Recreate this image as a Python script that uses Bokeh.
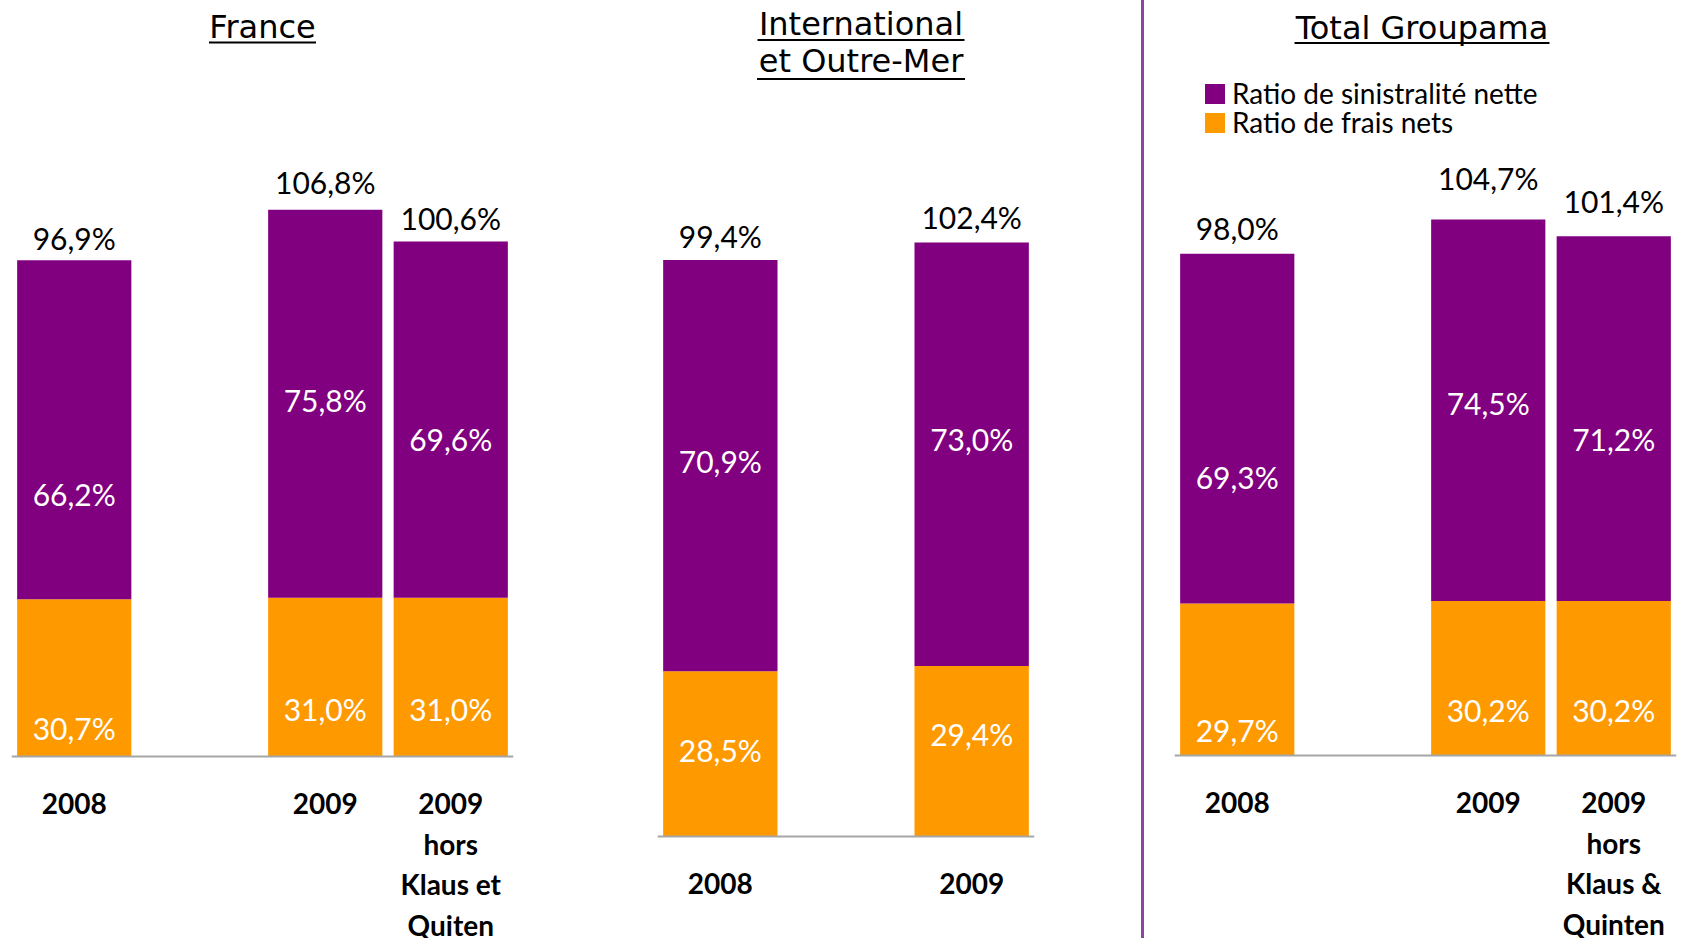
from bokeh.plotting import figure
from bokeh.models import FactorRange, Range1d, ColumnDataSource, Legend, LegendItem, Span, Div
from bokeh.layouts import row
from bokeh.embed import file_html
from bokeh.resources import INLINE
from bokeh.core.properties import value

# ---------------- data ----------------
france_labels = ["2008", "2009", "2009\nhors\nKlaus et\nQuiten"]
france_frais = [30.7, 31.0, 31.0]
france_sinistralite = [66.2, 75.8, 69.6]
france_ratio_combine = [96.9, 106.8, 100.6]

intl_labels = ["2008", "2009"]
intl_frais = [28.5, 29.4]
intl_sinistralite = [70.9, 73.0]
intl_ratio_combine = [99.4, 102.4]

total_labels = ["2008", "2009", "2009\nhors\nKlaus &\nQuinten"]
total_frais = [29.7, 30.2, 30.2]
total_sinistralite = [69.3, 74.5, 71.2]
total_ratio_combine = [98.0, 104.7, 101.4]

series_names = ["Ratio de sinistralité nette", "Ratio de frais nets"]

# ---------------- styles / layout ----------------
H = 938
PURPLE = "#800080"
ORANGE = "#FF9900"
AXIS_GRAY = "#A6A6A6"
DIVIDER = "#8B45A8"
LBL_FONT = value("Lato")
TITLE_FONT = value("DejaVu Sans")
UNIT = 125.6
BAR_W = 0.91
LBL_SIZE = 30
CAT_SIZE = 28
TITLE_SIZE = 32
BASELINE_FIX = 0.38      # em, empirical baseline correction of the svg text
LBL_BASELINE_FIX = 0.43


def fmt(v):
    return f"{v:.1f}".replace(".", ",") + "%"


def make_panel(title_lines, cats, frais, sin, comb, base, k, bl, br,
               title_dx, title_base, ul_y, ul_w, top_gap, sin_nudge, frais_nudge,
               legend_locs=None):
    groups = [c.split("\n")[0] for c in cats]
    factors = list(zip(groups, cats))
    n_units = len(cats) + (len(dict.fromkeys(groups)) - 1) * 1.0
    frame_w = int(round(n_units * UNIT))
    unit_px = frame_w / n_units
    p = figure(width=bl + frame_w + br, height=H,
               x_range=FactorRange(factors=factors, group_padding=1.0, range_padding=0),
               y_range=Range1d(-(H - base) / k, base / k),
               x_axis_location=None, y_axis_location=None,
               output_backend="svg", toolbar_location=None,
               min_border_left=bl, min_border_right=br,
               min_border_top=0, min_border_bottom=0)
    p.outline_line_color = None
    p.background_fill_color = "white"
    p.border_fill_color = "white"
    p.xgrid.grid_line_color = None
    p.ygrid.grid_line_color = None
    p.grid.visible = False

    fix = LBL_BASELINE_FIX * LBL_SIZE
    cap_half = 0.7165 * LBL_SIZE / 2
    mid_s = [(f + c) / 2 - nz / k for f, c, nz in zip(frais, comb, sin_nudge)]
    mid_f = [f / 2 - nz / k for f, nz in zip(frais, frais_nudge)]
    src = ColumnDataSource(dict(
        x=factors, frais=frais, comb=comb,
        sin_txt=[fmt(v) for v in sin], frais_txt=[fmt(v) for v in frais],
        comb_txt=[fmt(v) for v in comb],
        y_sin=[m + (fix - cap_half) / k for m in mid_s],
        y_fr=[m + (fix - cap_half) / k for m in mid_f],
        y_top=[c + (g + fix - cap_half) / k for c, g in zip(comb, top_gap)],
    ))
    r_or = p.vbar(x="x", bottom=0, top="frais", width=BAR_W, fill_color=ORANGE,
                  line_color=None, source=src)
    r_pu = p.vbar(x="x", bottom="frais", top="comb", width=BAR_W, fill_color=PURPLE,
                  line_color=None, source=src)

    p.add_layout(Span(location=0, dimension="width", line_color=AXIS_GRAY, line_width=2))

    common = dict(text_font=LBL_FONT, text_font_size=f"{LBL_SIZE}px", text_align="center",
                  text_baseline="alphabetic", source=src)
    p.text(x="x", y="y_sin", text="sin_txt", text_color="white", **common)
    p.text(x="x", y="y_fr", text="frais_txt", text_color="white", **common)
    p.text(x="x", y="y_top", text="comb_txt", text_color="black", **common)

    # category labels below the baseline
    cfix = BASELINE_FIX * CAT_SIZE
    cx, cy, ct = [], [], []
    for fac, c in zip(factors, cats):
        for i, line in enumerate(c.split("\n")):
            cx.append(fac)
            cy.append(-(58 + 40.3 * i - cfix) / k)
            ct.append(line)
    p.text(x=cx, y=cy, text=ct, text_font=LBL_FONT, text_font_size=f"{CAT_SIZE}px",
           text_font_style=value("bold"), text_align="center",
           text_baseline="alphabetic", text_color="black")

    # title with underline
    tfix = BASELINE_FIX * TITLE_SIZE
    tc = n_units / 2 + title_dx / unit_px
    p.text(x=[tc] * len(title_lines), y=[(base - b + tfix) / k for b in title_base],
           text=title_lines, text_font=TITLE_FONT, text_font_size=f"{TITLE_SIZE}px",
           text_align="center", text_baseline="alphabetic", text_color="black")
    p.rect(x=[tc] * len(ul_y), y=[(base - u) / k for u in ul_y], width=ul_w,
           width_units="screen", height=2, height_units="screen",
           fill_color="black", line_color=None)

    if legend_locs is not None:
        for name, rend, loc in zip(series_names, [r_pu, r_or], legend_locs):
            leg = Legend(items=[LegendItem(label=name, renderers=[rend])],
                         location=loc, glyph_width=25, glyph_height=25,
                         label_standoff=5, spacing=0, padding=0, margin=0,
                         label_height=20, border_line_color=None,
                         background_fill_alpha=0,
                         label_text_font="Lato", label_text_font_size="28px",
                         label_text_color="black")
            p.add_layout(leg)
    return p


p1 = make_panel(["France"], france_labels, france_frais, france_sinistralite,
                france_ratio_combine, base=756, k=5.12, bl=11, br=87,
                title_dx=0, title_base=[39], ul_y=[42], ul_w=[107],
                top_gap=[20, 26, 21], sin_nudge=[66, -2, 22], frais_nudge=[52, 34, 34])

p2 = make_panel(["International", "et Outre-Mer"], intl_labels, intl_frais,
                intl_sinistralite, intl_ratio_combine, base=836, k=5.80, bl=57, br=107,
                title_dx=15, title_base=[36, 73], ul_y=[39.5, 78.5], ul_w=[207, 208],
                top_gap=[22, 23], sin_nudge=[-2, -13], frais_nudge=[-2, -15])

divider = Div(text="", width=3, height=H, margin=0,
              styles={"background-color": DIVIDER})

p3 = make_panel(["Total Groupama"], total_labels, total_frais, total_sinistralite,
                total_ratio_combine, base=755, k=5.12, bl=30, br=30,
                title_dx=-3.5, title_base=[39.5], ul_y=[42.5], ul_w=[255],
                top_gap=[24, 39, 33], sin_nudge=[51, -5, 23], frais_nudge=[53, 34, 34],
                legend_locs=[(28, H - 110), (28, H - 139)])

layout = row(p1, p2, divider, p3, spacing=0)
open("out.html", "w").write(file_html(layout, INLINE))
